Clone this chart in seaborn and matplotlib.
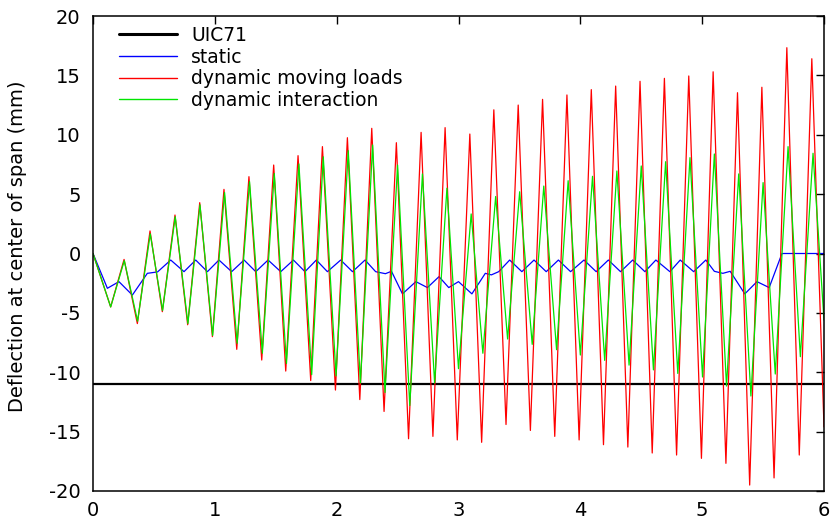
import numpy as np
import pandas as pd
import matplotlib
matplotlib.use("Agg")
import matplotlib.pyplot as plt
import seaborn as sns

# ---------------- data ----------------
uic_t = [0.0, 6.0]
uic_v = [-11.0, -11.0]

static_t = [0.0, 0.118, 0.213, 0.323, 0.446, 0.53, 0.638, 0.747, 0.843, 0.939,
            1.034, 1.138, 1.24, 1.336, 1.437, 1.541, 1.645, 1.74, 1.833, 1.924,
            2.033, 2.13, 2.233, 2.32, 2.40, 2.45, 2.54, 2.65, 2.745, 2.84,
            2.92, 3.0, 3.11, 3.22, 3.27, 3.33, 3.42, 3.52, 3.62, 3.72,
            3.82, 3.92, 4.03, 4.13, 4.23, 4.33, 4.43, 4.53, 4.62, 4.735,
            4.82, 4.93, 5.03, 5.1, 5.17, 5.23, 5.35, 5.45, 5.55, 5.655, 6.0]
static_v = [0.0, -2.93, -2.37, -3.5, -1.67, -1.55, -0.55, -1.53, -0.55, -1.53,
            -0.55, -1.53, -0.55, -1.53, -0.55, -1.53, -0.55, -1.53, -0.55, -1.53,
            -0.55, -1.53, -0.55, -1.53, -1.7, -1.5, -3.4, -2.37, -2.87, -1.95,
            -2.87, -2.37, -3.4, -1.67, -1.8, -1.53, -0.55, -1.53, -0.55, -1.53,
            -0.55, -1.53, -0.55, -1.53, -0.55, -1.53, -0.55, -1.53, -0.55, -1.53,
            -0.55, -1.53, -0.55, -1.5, -1.67, -1.5, -3.4, -2.37, -2.87, 0.0, 0.0]

moving_t = [0.0, 0.145, 0.255, 0.364, 0.468, 0.569, 0.673, 0.777, 0.876, 0.98,
            1.075, 1.18, 1.28, 1.385, 1.483, 1.582, 1.683, 1.787, 1.883, 1.99,
            2.088, 2.19, 2.288, 2.389, 2.49, 2.59, 2.693, 2.79, 2.89, 2.99,
            3.093, 3.19, 3.29, 3.39, 3.49, 3.59, 3.69, 3.79, 3.89, 3.99,
            4.09, 4.19, 4.29, 4.39, 4.49, 4.59, 4.69, 4.79, 4.89, 4.994,
            5.09, 5.195, 5.29, 5.39, 5.49, 5.59, 5.695, 5.797, 5.9, 6.0]
moving_v = [0.0, -4.5, -0.5, -5.9, 1.9, -4.9, 3.24, -6.0, 4.28, -7.0,
            5.4, -8.07, 6.47, -8.97, 7.45, -9.9, 8.24, -10.7, 9.0, -11.5,
            9.75, -12.3, 10.54, -13.3, 9.33, -15.6, 10.2, -15.4, 10.6, -15.7,
            10.06, -15.9, 12.1, -14.4, 12.5, -14.9, 12.98, -15.4, 13.35, -15.7,
            13.8, -16.1, 14.1, -16.3, 14.5, -16.8, 14.75, -16.97, 14.95, -17.25,
            15.3, -17.67, 13.54, -19.5, 14.0, -18.9, 17.33, -16.97, 16.4, -14.6]

inter_t = [0.0, 0.145, 0.257, 0.366, 0.47, 0.571, 0.675, 0.779, 0.878, 0.982,
           1.08, 1.183, 1.285, 1.39, 1.488, 1.588, 1.69, 1.795, 1.89, 1.995,
           2.095, 2.195, 2.295, 2.397, 2.5, 2.6, 2.704, 2.804, 2.905, 3.0,
           3.104, 3.2, 3.305, 3.403, 3.502, 3.605, 3.7, 3.805, 3.9, 4.0,
           4.1, 4.2, 4.3, 4.4, 4.5, 4.6, 4.7, 4.8, 4.9, 5.003,
           5.1, 5.2, 5.3, 5.4, 5.5, 5.6, 5.705, 5.806, 5.91, 6.0]
inter_v = [0.0, -4.5, -0.6, -5.7, 1.65, -4.8, 3.1, -5.9, 4.1, -6.9,
           5.13, -7.56, 6.05, -8.4, 6.74, -9.26, 7.54, -10.2, 8.14, -10.3,
           8.66, -10.9, 9.14, -11.7, 7.45, -12.8, 6.7, -10.9, 5.5, -9.7,
           3.33, -8.4, 4.8, -7.2, 5.2, -7.65, 5.68, -8.1, 6.13, -8.55,
           6.5, -9.0, 6.95, -9.4, 7.37, -9.8, 7.73, -10.1, 8.07, -10.4,
           8.38, -11.16, 6.7, -12.0, 5.97, -10.15, 9.0, -8.69, 8.44, -5.6]

labels = ["UIC71", "static", "dynamic moving loads", "dynamic interaction"]
colors = ["#000000", "#0000ff", "#ff0000", "#00e600"]
widths = [1.6, 0.9, 0.9, 0.9]

# ---------------- plotting ----------------
sns.set_theme(style="white")
plt.rcParams["font.family"] = ["DejaVu Sans"]
plt.rcParams["axes.unicode_minus"] = False
plt.rcParams["text.color"] = "black"

W, H = 833, 521
fig = plt.figure(figsize=(W / 100, H / 100), dpi=100)
ax = fig.add_axes([93 / W, 1 - 491 / H, (824 - 93) / W, (491 - 16) / H])

series = [(uic_t, uic_v), (static_t, static_v), (moving_t, moving_v), (inter_t, inter_v)]
for (t, v), lab, c, lw in zip(series, labels, colors, widths):
    df = pd.DataFrame({"t": t, "v": v})
    sns.lineplot(data=df, x="t", y="v", ax=ax, color=c, linewidth=lw,
                 label=lab, sort=False, estimator=None)

FS = 14
ax.set_xlim(0, 6)
ax.set_ylim(-20, 20)
ax.set_xticks(range(0, 7))
ax.set_yticks(range(-20, 21, 5))
ax.set_xlabel("")
ax.set_ylabel("Deflection at center of span (mm)", fontsize=FS, color="black")
ax.yaxis.set_label_coords((27 - 93) / (824 - 93), 0.516)
ax.tick_params(direction="in", length=6, width=1, top=True, right=True,
               labelsize=FS, colors="black")
ax.tick_params(axis="y", pad=9)
ax.tick_params(axis="x", pad=7)
for s in ax.spines.values():
    s.set_visible(True)
    s.set_color("black")
    s.set_linewidth(1.1)

leg = ax.legend(loc="upper left", bbox_to_anchor=((119 - 93) / (824 - 93), 1 - (26 - 16) / (491 - 16)),
                frameon=False, fontsize=13.5, handlelength=3.1, handletextpad=0.75,
                labelspacing=0.14, borderaxespad=0, borderpad=0, labelcolor="black")
for h, lw in zip(leg.get_lines(), [2.2, 1.0, 1.0, 1.0]):
    h.set_linewidth(lw)

fig.savefig("out.png", dpi=100)
